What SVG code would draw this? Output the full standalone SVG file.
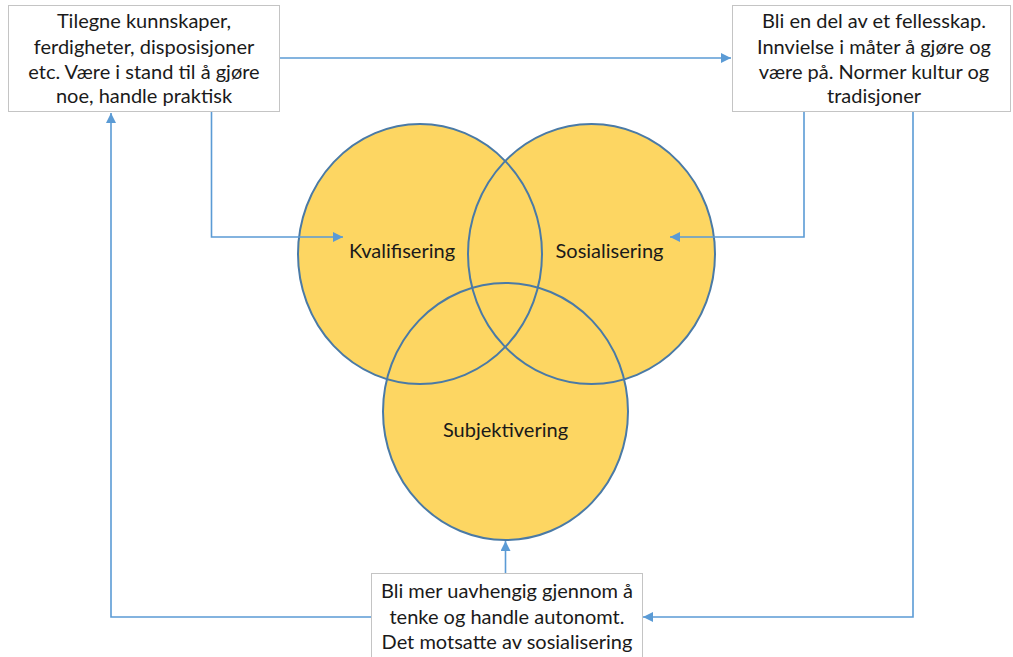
<svg xmlns="http://www.w3.org/2000/svg" width="1013" height="657" viewBox="0 0 1013 657">
<defs>
<style>
.box{fill:#fff;stroke:#c4c4c4;stroke-width:1}
.t{font-family:Lato,"Open Sans","Liberation Sans",sans-serif;font-size:20px;fill:#1a1a1a;text-anchor:middle}
.fill{fill:#fdd662;stroke:none}
.ring{fill:none;stroke:#4a7aa6;stroke-width:2}
.c{fill:none;stroke:#5b9bd5;stroke-width:1.6}
</style>
<marker id="ah" viewBox="0 0 10 10" refX="10" refY="5" markerWidth="12" markerHeight="10" markerUnits="userSpaceOnUse" orient="auto">
<path d="M0,0 L10,5 L0,10 z" fill="#5b9bd5"/>
</marker>
</defs>
<rect width="1013" height="657" fill="#fff"/>
<g id="venn">
<ellipse class="fill" cx="420" cy="254" rx="122" ry="130"/>
<ellipse class="fill" cx="591.5" cy="254" rx="123.5" ry="130"/>
<ellipse class="fill" cx="505.5" cy="411.5" rx="122.5" ry="128.5"/>
<ellipse class="ring" cx="420" cy="254" rx="122" ry="130"/>
<ellipse class="ring" cx="591.5" cy="254" rx="123.5" ry="130"/>
<ellipse class="ring" cx="505.5" cy="411.5" rx="122.5" ry="128.5"/>
</g>
<g id="kvalifisering"><text class="t" x="402" y="258">Kvalifisering</text></g>
<g id="sosialisering"><text class="t" x="609.5" y="258">Sosialisering</text></g>
<g id="subjektivering"><text class="t" x="505.5" y="437">Subjektivering</text></g>
<g id="connectors">
<path class="c" d="M280,58 H731" marker-end="url(#ah)"/>
<path class="c" d="M211.5,112 V237 H343" marker-end="url(#ah)"/>
<path class="c" d="M804,112 V237 H670" marker-end="url(#ah)"/>
<path class="c" d="M913,112 V617 H643" marker-end="url(#ah)"/>
<path class="c" d="M371,617 H111 V113" marker-end="url(#ah)"/>
<path class="c" d="M505.5,573 V541" marker-end="url(#ah)"/>
</g>
<g id="box-left">
<rect class="box" x="8.5" y="5.5" width="271" height="106"/>
<text class="t" x="144" y="28">Tilegne kunnskaper,</text>
<text class="t" x="144" y="54">ferdigheter, disposisjoner</text>
<text class="t" x="144" y="79">etc. Være i stand til å gjøre</text>
<text class="t" x="144" y="103">noe, handle praktisk</text>
</g>
<g id="box-right">
<rect class="box" x="732.5" y="5.5" width="278" height="106"/>
<text class="t" x="874" y="28">Bli en del av et fellesskap.</text>
<text class="t" x="874" y="54">Innvielse i måter å gjøre og</text>
<text class="t" x="874" y="79">være på. Normer kultur og</text>
<text class="t" x="874" y="103">tradisjoner</text>
</g>
<g id="box-bottom">
<rect class="box" x="371.5" y="573.5" width="271" height="90"/>
<text class="t" x="507" y="598">Bli mer uavhengig gjennom å</text>
<text class="t" x="507" y="624">tenke og handle autonomt.</text>
<text class="t" x="507" y="649">Det motsatte av sosialisering</text>
</g>
</svg>
